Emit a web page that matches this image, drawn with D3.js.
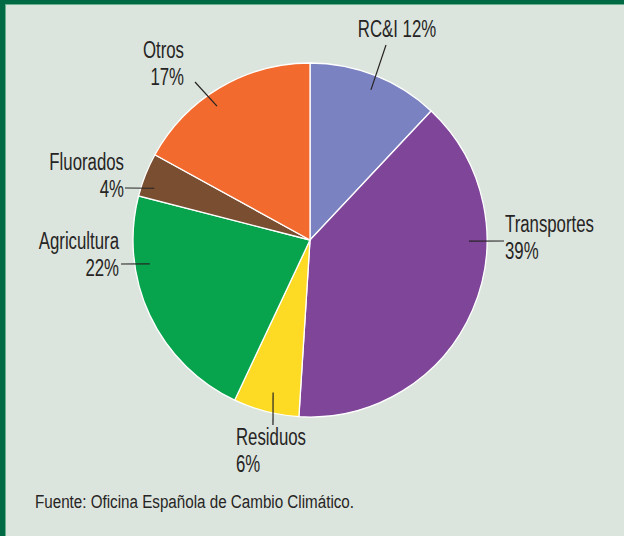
<!DOCTYPE html>
<html>
<head>
<meta charset="utf-8">
<script src="https://cdn.jsdelivr.net/npm/d3@7"></script>
<style>
  html, body { margin: 0; padding: 0; background: #dce5dd; }
  svg { display: block; }
  .lbl { font-family: "Liberation Sans", Arial, sans-serif; fill: #262424; }
</style>
</head>
<body>
<script>
var width = 624,
    height = 536,
    cx = 310,
    cy = 240,
    radius = 177,
    squeeze = 0.73;   // condensed look

// data
var categories = ["RC&I", "Transportes", "Residuos", "Agricultura", "Fluorados", "Otros"];
var values = [12, 39, 6, 22, 4, 17];
var colors = ["#7a82c1", "#7f4599", "#fddb25", "#08a34d", "#7a4f31", "#f26a2e"];

// label layout: leader inner end (angle deg, radius), leader outer end, text anchor
var leaders = [
  {a: 22.1, r: 162, ox: 386, oy: 45, tx: 397, ty: 37, anchor: "middle", oneLine: true},
  {a: 90.4, r: 159, ox: 504, oy: 241, tx: 505, ty: 232, anchor: "start"},
  {a: 193.6, r: 157, ox: 273, oy: 425, tx: 236, ty: 445, anchor: "start"},
  {a: 261.5, r: 162, ox: 121, oy: 264, tx: 119, ty: 249, anchor: "end"},
  {a: 288.4, r: 164, ox: 125, oy: 188, tx: 124, ty: 170, anchor: "end"},
  {a: 325.2, r: 163, ox: 195, oy: 82, tx: 184, ty: 58, anchor: "end"}
];

var svg = d3.select("body").append("svg")
    .attr("width", width)
    .attr("height", height);

svg.append("rect")
    .attr("width", width)
    .attr("height", height)
    .attr("fill", "#dce5dd");

// frame
svg.append("rect").attr("x", 0).attr("y", 0).attr("width", width).attr("height", 4).attr("fill", "#006a44");
svg.append("rect").attr("x", 0).attr("y", 4).attr("width", width).attr("height", 1).attr("fill", "#6bb08c");
svg.append("rect").attr("x", 0).attr("y", 0).attr("width", 5).attr("height", height).attr("fill", "#006a44");
svg.append("rect").attr("x", 5).attr("y", 5).attr("width", 1).attr("height", height).attr("fill", "#6bb08c");

var pie = d3.pie().sort(null).value(function(d) { return d; });
var arc = d3.arc().innerRadius(0).outerRadius(radius);

var g = svg.append("g").attr("transform", "translate(" + cx + "," + cy + ")");

g.selectAll("path")
    .data(pie(values))
    .enter()
    .append("path")
    .attr("d", arc)
    .attr("fill", function(d, i) { return colors[i]; })
    .attr("stroke", "#ffffff")
    .attr("stroke-width", 1.3);

// leader lines + labels
leaders.forEach(function(l, i) {
  var rad = l.a * Math.PI / 180;
  svg.append("line")
      .attr("x1", cx + l.r * Math.sin(rad))
      .attr("y1", cy - l.r * Math.cos(rad))
      .attr("x2", l.ox)
      .attr("y2", l.oy)
      .attr("stroke", "#262424")
      .attr("stroke-width", 1.2);

  var t = svg.append("text")
      .attr("class", "lbl")
      .attr("transform", "translate(" + l.tx + "," + l.ty + ") scale(" + squeeze + ",1)")
      .attr("text-anchor", l.anchor)
      .style("font-size", "23px");
  if (l.oneLine) {
    t.text(categories[i] + " " + values[i] + "%");
  } else {
    t.append("tspan").attr("x", 0).text(categories[i]);
    t.append("tspan").attr("x", 0).attr("dy", 27).text(values[i] + "%");
  }
});

svg.append("text")
    .attr("class", "lbl")
    .attr("transform", "translate(35,508) scale(0.8,1)")
    .style("font-size", "19px")
    .text("Fuente: Oficina Española de Cambio Climático.");
</script>
</body>
</html>
